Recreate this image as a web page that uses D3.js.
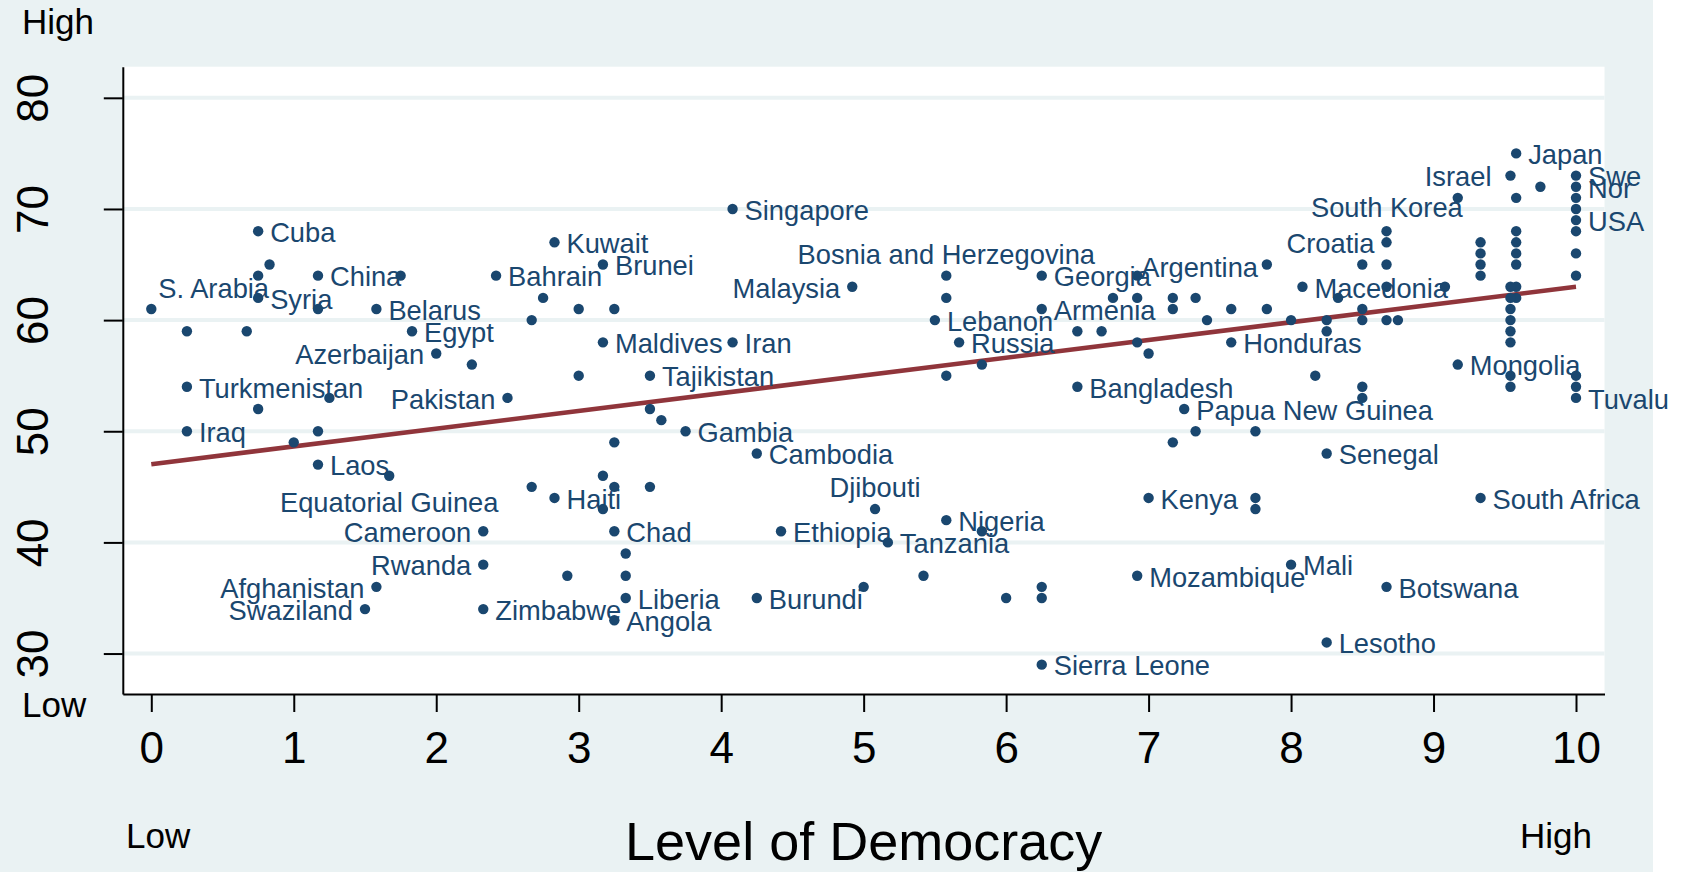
<!DOCTYPE html>
<html>
<head>
<meta charset="utf-8">
<script src="https://cdn.jsdelivr.net/npm/d3@7"></script>
<style>
  html, body { margin: 0; padding: 0; background: #ffffff; }
  svg { display: block; font-family: "Liberation Sans", Arial, Helvetica, sans-serif; }
</style>
</head>
<body>
<svg id="chart" width="1686" height="872"></svg>
<script>
// ---------- DATA ----------
const labeledNames = ["S. Arabia","Turkmenistan","Iraq","Cuba","Syria","China","Laos","Belarus",
  "Equatorial Guinea","Egypt","Azerbaijan","Afghanistan","Swaziland","Cameroon","Rwanda","Zimbabwe",
  "Bahrain","Pakistan","Kuwait","Haiti","Brunei","Maldives","Chad","Angola","Liberia","Tajikistan",
  "Gambia","Singapore","Iran","Cambodia","Burundi","Ethiopia","Malaysia","Djibouti","Tanzania",
  "Lebanon","Bosnia and Herzegovina","Nigeria","Russia","Georgia","Armenia","Sierra Leone",
  "Bangladesh","Argentina","Mozambique","Kenya","Papua New Guinea","Honduras","Mali","Macedonia",
  "Senegal","Lesotho","Croatia","Botswana","South Korea","Mongolia","South Africa","Israel","Japan",
  "Swe","Nor","USA","Tuvalu"];
const labeledDemocracy = [0,0.25,0.25,0.75,0.75,1.17,1.17,1.58,
  1.67,1.83,2.0,1.58,1.5,2.33,2.33,2.33,
  2.42,2.5,2.83,2.83,3.17,3.17,3.25,3.25,3.33,3.5,
  3.75,4.08,4.08,4.25,4.25,4.42,4.92,5.08,5.17,
  5.5,5.58,5.58,5.67,6.25,6.25,6.25,
  6.5,6.92,6.92,7.0,7.25,7.58,8.0,8.08,
  8.25,8.25,8.67,8.67,9.17,9.17,9.33,9.54,9.58,
  10,10,10,10];
const labeledLifeExp = [61,54,50,68,62,64,47,61,
  46,59,57,36,34,41,38,34,
  64,53,67,44,65,58,41,33,35,55,
  50,70,58,48,35,41,63,43,40,
  60,64,42,58,64,61,29,
  54,64,37,44,52,58,38,63,
  48,31,67,36,71,56,44,73,75,
  73,72,69,53];

const otherDemocracy = [0.25,0.67,0.75,0.83,0.75,1.17,1.75,1.0,1.17,1.25,
  2.25,2.67,2.75,3.0,3.25,3.0,2.67,2.92,3.17,3.25,3.5,3.17,3.25,3.5,3.58,3.33,3.33,
  5.0,5.42,5.58,5.58,5.83,5.83,6.0,6.25,6.25,
  6.5,6.67,6.75,6.92,6.92,7.0,7.17,7.17,7.33,7.41,7.58,7.83,7.83,8.0,
  8.25,8.25,8.33,8.5,8.5,8.5,8.5,8.5,8.67,8.67,8.67,8.67,8.75,8.17,9.08,
  7.33,7.75,7.17,7.75,7.75,
  9.33,9.33,9.33,9.33,
  9.58,9.58,9.58,9.58,9.58,9.58,9.58,
  9.54,9.54,9.54,9.54,9.54,9.54,9.54,9.54,
  9.75,10,10,10,10,10,10,10];
const otherLifeExp = [59,59,64,65,52,61,64,49,50,53,
  56,60,62,61,61,55,45,37,46,45,45,43,49,52,51,39,37,
  36,37,62,55,56,41,35,36,35,
  59,59,62,62,58,57,62,61,62,60,61,61,65,60,
  60,59,62,65,61,60,54,53,68,65,63,60,60,55,63,
  50,50,49,44,43,
  67,66,65,64,
  71,68,67,66,65,63,62,
  63,62,61,60,59,58,55,54,
  72,71,70,68,66,64,55,54];

// fitted line endpoints
const fitDemocracy = [0, 10];
const fitLifeExp = [47.04, 63.0];

const xTicks = [0,1,2,3,4,5,6,7,8,9,10];
const yTicks = [30,40,50,60,70,80];
const xTitle = "Level of Democracy";
const cornerLow = "Low";
const cornerHigh = "High";

// label placement (clock positions, as in Stata mlabvposition)
const labelClock = [1,3,3,3,3,3,3,3,
  6,3,9,9,9,9,9,3,
  3,9,3,3,3,3,3,3,3,3,
  3,3,3,3,3,3,9,12,3,
  3,12,3,3,3,3,3,
  3,2,3,3,3,3,3,3,
  3,3,9,3,7,3,3,8,3,
  3,3,3,3];

// ---------- STYLE ----------
const BG = "#EAF2F3";
const NAVY = "#1A476F";
const MAROON = "#90353B";

const svg = d3.select("#chart");
const W = 1686, H = 872;
const plot = {left: 122.8, right: 1604.5, top: 66.7, bottom: 694};

svg.append("rect").attr("x", 0).attr("y", 0).attr("width", W).attr("height", H).attr("fill", "#ffffff");
svg.append("rect").attr("x", 0).attr("y", 0).attr("width", 1653).attr("height", H).attr("fill", BG);
svg.append("rect").attr("x", plot.left).attr("y", plot.top)
  .attr("width", plot.right - plot.left).attr("height", plot.bottom - plot.top).attr("fill", "#ffffff");

const x = d3.scaleLinear().domain([-0.2, 10.2]).range([plot.left, plot.right]);
const y = d3.scaleLinear().domain([26.36, 82.8]).range([plot.bottom, plot.top]);

// gridlines
svg.append("g").selectAll("line").data(yTicks).join("line")
  .attr("x1", plot.left).attr("x2", plot.right)
  .attr("y1", d => y(d)).attr("y2", d => y(d))
  .attr("stroke", BG).attr("stroke-width", 4);

// y axis
const yAxis = svg.append("g").attr("transform", `translate(${plot.left},0)`)
  .call(d3.axisLeft(y).tickValues(yTicks).tickSize(19).tickSizeOuter(0).tickFormat(d3.format("d")));
yAxis.select(".domain").attr("stroke", "#000").attr("stroke-width", 2);
yAxis.selectAll(".tick line").attr("stroke", "#000").attr("stroke-width", 2);
yAxis.selectAll(".tick text")
  .attr("x", null).attr("dy", null)
  .attr("transform", `translate(${48 - plot.left},0) rotate(-90)`)
  .attr("text-anchor", "middle")
  .attr("font-size", 44).attr("fill", "#000")
  .attr("font-family", "Liberation Sans, Arial, sans-serif");

// x axis
const xAxis = svg.append("g").attr("transform", `translate(0,${plot.bottom})`)
  .call(d3.axisBottom(x).tickValues(xTicks).tickSize(18).tickSizeOuter(0).tickFormat(d3.format("d")));
xAxis.select(".domain").attr("stroke", "#000").attr("stroke-width", 2);
xAxis.selectAll(".tick line").attr("stroke", "#000").attr("stroke-width", 2);
xAxis.selectAll(".tick text")
  .attr("y", 69).attr("dy", null)
  .attr("font-size", 44).attr("fill", "#000")
  .attr("font-family", "Liberation Sans, Arial, sans-serif");

// fit line
svg.append("line")
  .attr("x1", x(fitDemocracy[0])).attr("y1", y(fitLifeExp[0]))
  .attr("x2", x(fitDemocracy[1])).attr("y2", y(fitLifeExp[1]))
  .attr("stroke", MAROON).attr("stroke-width", 4.5);

// points
const others = otherDemocracy.map((d, i) => ({x: d, y: otherLifeExp[i]}));
const labeled = labeledNames.map((n, i) => ({name: n, x: labeledDemocracy[i], y: labeledLifeExp[i], pos: labelClock[i]}));

svg.append("g").selectAll("circle").data(others.concat(labeled)).join("circle")
  .attr("cx", d => x(d.x)).attr("cy", d => y(d.y)).attr("r", 5.2)
  .attr("fill", NAVY);

// labels
function place(d) {
  const px = x(d.x), py = y(d.y);
  switch (d.pos) {
    case 9:  return {tx: px - 12, ty: py + 10.8, a: "end"};
    case 8:  return {tx: px - 19, ty: py + 10.8, a: "end"};
    case 12: return {tx: px, ty: py - 12, a: "middle"};
    case 6:  return {tx: px, ty: py + 36, a: "middle"};
    case 1:  return {tx: px + 7, ty: py - 11, a: "start"};
    case 2:  return {tx: px + 4, ty: py + 1, a: "start"};
    case 7:  return {tx: px + 5, ty: py + 19, a: "end"};
    default: return {tx: px + 12, ty: py + 10.8, a: "start"};
  }
}
svg.append("g").selectAll("text").data(labeled).join("text")
  .each(function(d) {
    const p = place(d);
    d3.select(this).attr("x", p.tx).attr("y", p.ty).attr("text-anchor", p.a);
  })
  .attr("font-size", 27.3).attr("fill", NAVY)
  .text(d => d.name);

// axis titles and corner notes
svg.append("text").attr("x", (plot.left + plot.right) / 2).attr("y", 860)
  .attr("text-anchor", "middle").attr("font-size", 54).attr("fill", "#000").text(xTitle);
svg.append("text").attr("x", 126).attr("y", 848).attr("font-size", 35).attr("fill", "#000").text(cornerLow);
svg.append("text").attr("x", 1520).attr("y", 848).attr("font-size", 35).attr("fill", "#000").text(cornerHigh);
svg.append("text").attr("x", 22).attr("y", 34).attr("font-size", 35).attr("fill", "#000").text(cornerHigh);
svg.append("text").attr("x", 22).attr("y", 717).attr("font-size", 35).attr("fill", "#000").text(cornerLow);
</script>
</body>
</html>
